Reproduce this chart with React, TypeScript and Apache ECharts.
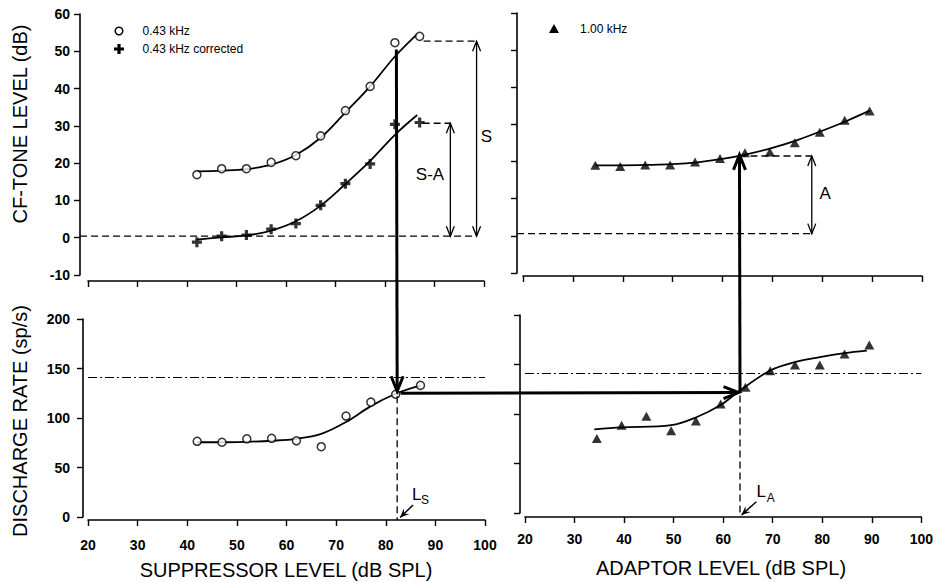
import React, { useEffect, useRef } from "react";
import * as echarts from "echarts";

// ---------------- data ----------------
// Suppressor (0.43 kHz) panels
const suppressorLevels = [42, 47, 52, 57, 62, 67, 72, 77, 82, 87];
const cfTone043 = [16.9, 18.5, 18.5, 20.2, 22.0, 27.3, 34.1, 40.6, 52.3, 54.0];
const cfTone043Corrected = [-1.2, 0.4, 0.7, 2.3, 3.8, 8.7, 14.5, 19.8, 30.4, 30.9];
const rate043 = [76.5, 75.5, 79, 79.5, 77, 71, 102, 116, 124, 133];

const fit043Levels = [42, 47, 52, 57, 62, 67, 72, 77, 82, 86.5];
const fit043 = [17.8, 18.0, 18.4, 19.6, 22.2, 26.8, 33.6, 40.6, 48.6, 54.6];
const fit043CorrLevels = [42, 47, 52, 57, 62, 67, 72, 77, 82, 86.5];
const fit043Corr = [-0.5, 0.1, 0.6, 1.9, 4.4, 8.6, 14.4, 20.6, 27.6, 32.9];
const fitRate043Levels = [42, 47, 52, 57, 62, 67, 72, 77, 82, 87];
const fitRate043 = [75.5, 75.5, 76, 77, 79, 84, 96, 112, 124.5, 133];

// Adaptor (1.00 kHz) panels
const adaptorLevels = [34.5, 39.5, 44.5, 49.5, 54.5, 59.5, 64.5, 69.5, 74.5, 79.5, 84.5, 89.5];
const cfTone100 = [19.0, 18.7, 19.1, 19.1, 19.9, 20.8, 22.4, 22.6, 25.1, 27.9, 31.1, 33.6];
const rate100 = [75.3, 88.7, 97.8, 83, 93, 110, 126.9, 143.7, 149.4, 149.4, 160.5, 169.6];
const fit100Levels = [34.5, 40, 45, 50, 55, 60, 65, 70, 75, 80, 85, 89.5];
const fit100 = [19.0, 19.0, 19.1, 19.3, 19.8, 20.7, 22.0, 23.7, 25.8, 28.3, 31.0, 33.7];
const fitRate100Levels = [34, 39.5, 49.5, 54.5, 59.5, 63.3, 69.5, 74.5, 79.5, 84.5, 89];
const fitRate100 = [84.4, 86.4, 88.7, 96.5, 109, 123.4, 144, 152.5, 157.5, 161.5, 164];

// reference discharge rate (dash-dot lines)
const referenceRate = 141;

// annotation anchors (data units)
const levelLs = 82.3; // L_S
const levelLa = 63.4; // L_A
const sTop = 52.7;
const saTop = 30.7;
const zeroTL = 0.4;
const sArrowLevel = 98.5;
const saArrowLevel = 93.2;
const aTop = 21.5;
const aBase = 0.6;
const aArrowLevel = 77.9;
const rateAtLs = 125;
const rateAtLa = 121.7;

// labels
const xTitleLeft = "SUPPRESSOR LEVEL (dB SPL)";
const xTitleRight = "ADAPTOR LEVEL (dB SPL)";
const yTitleTop = "CF-TONE LEVEL (dB)";
const yTitleBottom = "DISCHARGE RATE (sp/s)";
const legendLabels = ["0.43 kHz", "0.43 kHz corrected", "1.00 kHz"];

const FONT = '"Liberation Sans", Arial, Helvetica, sans-serif';
const PLUS = "path://M3.4,0H6.6V3.4H10V6.6H6.6V10H3.4V6.6H0V3.4H3.4Z";

const zip = (xs: number[], ys: number[]) => xs.map((x, i) => [x, ys[i]]);

function buildOption(): any {
  const axisLine = { show: true, onZero: false, lineStyle: { color: "#000", width: 1.6 } };
  const tick = { show: true, length: 6, lineStyle: { color: "#000", width: 1.4 } };
  const label = (show: boolean, margin: number) => ({
    show,
    margin,
    color: "#000",
    fontSize: 14,
    fontWeight: "bold",
    fontFamily: FONT,
  });
  const xAxis = (gi: number, offset: number, show: boolean, margin: number) => ({
    type: "value",
    gridIndex: gi,
    min: 20,
    max: 100,
    interval: 10,
    offset,
    axisLine,
    axisTick: tick,
    axisLabel: label(show, margin),
    splitLine: { show: false },
  });
  const yAxis = (gi: number, min: number, max: number, interval: number, offset: number, show: boolean, margin: number) => ({
    type: "value",
    gridIndex: gi,
    min,
    max,
    interval,
    offset,
    axisLine,
    axisTick: tick,
    axisLabel: label(show, margin),
    splitLine: { show: false },
  });
  const fitLine = (gi: number, xs: number[], ys: number[], extra: any = {}) => ({
    type: "line",
    xAxisIndex: gi,
    yAxisIndex: gi,
    data: zip(xs, ys),
    smooth: 0.35,
    showSymbol: false,
    symbol: "none",
    lineStyle: { color: "#000", width: 1.8 },
    z: 2,
    silent: true,
    ...extra,
  });
  const refLine = {
    silent: true,
    symbol: "none",
    label: { show: false },
    lineStyle: { color: "#000", width: 1, type: [9, 3, 2, 3] },
    data: [{ yAxis: referenceRate }],
  };
  return {
    animation: false,
    backgroundColor: "#fff",
    grid: [
      { left: 88, top: 14, width: 396, height: 261 },
      { left: 523, top: 13, width: 399, height: 260 },
      { left: 88, top: 319, width: 397, height: 198 },
      { left: 525, top: 315, width: 397, height: 198 },
    ],
    xAxis: [xAxis(0, 6, false, 8), xAxis(1, 3, false, 8), xAxis(2, 3, true, 18), xAxis(3, 4, true, 15)],
    yAxis: [
      yAxis(0, -10, 60, 10, 8, true, 10),
      yAxis(1, -10, 60, 10, 6, false, 10),
      yAxis(2, 0, 200, 50, 5, true, 13),
      yAxis(3, 0, 200, 50, 5, false, 13),
    ],
    series: [
      fitLine(0, fit043Levels, fit043),
      fitLine(0, fit043CorrLevels, fit043Corr),
      {
        name: legendLabels[0],
        type: "scatter",
        xAxisIndex: 0,
        yAxisIndex: 0,
        data: zip(suppressorLevels, cfTone043),
        symbol: "circle",
        symbolSize: 8,
        itemStyle: { color: "#fff", borderColor: "#000", borderWidth: 1.5 },
        z: 5,
      },
      {
        name: legendLabels[1],
        type: "scatter",
        xAxisIndex: 0,
        yAxisIndex: 0,
        data: zip(suppressorLevels, cfTone043Corrected),
        symbol: PLUS,
        symbolSize: 10,
        itemStyle: { color: "#000" },
        z: 5,
      },
      fitLine(1, fit100Levels, fit100),
      {
        name: legendLabels[2],
        type: "scatter",
        xAxisIndex: 1,
        yAxisIndex: 1,
        data: zip(adaptorLevels, cfTone100),
        symbol: "triangle",
        symbolSize: [10, 9],
        itemStyle: { color: "#000" },
        z: 5,
      },
      fitLine(2, fitRate043Levels, fitRate043, { markLine: refLine }),
      {
        type: "scatter",
        xAxisIndex: 2,
        yAxisIndex: 2,
        data: zip(suppressorLevels, rate043),
        symbol: "circle",
        symbolSize: 8,
        itemStyle: { color: "#fff", borderColor: "#000", borderWidth: 1.5 },
        z: 5,
      },
      fitLine(3, fitRate100Levels, fitRate100, { markLine: refLine }),
      {
        type: "scatter",
        xAxisIndex: 3,
        yAxisIndex: 3,
        data: zip(adaptorLevels, rate100),
        symbol: "triangle",
        symbolSize: [10, 9],
        itemStyle: { color: "#000" },
        z: 5,
      },
    ],
  };
}

function buildGraphics(chart: any): any[] {
  const P = (gi: number, x: number, y: number): number[] =>
    chart.convertToPixel({ gridIndex: gi }, [x, y]) as number[];
  const g: any[] = [];
  const seg = (a: number[], b: number[], lw: number, dash?: number[]) =>
    g.push({
      type: "polyline",
      shape: { points: [a, b] },
      style: { stroke: "#000", lineWidth: lw, lineDash: dash, fill: "none" },
      z: 20,
    });
  const head = (tip: number[], from: number[], len: number, half: number, lw: number, filled = false) => {
    const dx = tip[0] - from[0];
    const dy = tip[1] - from[1];
    const d = Math.hypot(dx, dy) || 1;
    const ux = dx / d;
    const uy = dy / d;
    const nx = -uy;
    const ny = ux;
    const w1 = [tip[0] - ux * len + nx * half, tip[1] - uy * len + ny * half];
    const w2 = [tip[0] - ux * len - nx * half, tip[1] - uy * len - ny * half];
    if (filled) {
      const back = [tip[0] - ux * len * 0.6, tip[1] - uy * len * 0.6];
      g.push({ type: "polygon", shape: { points: [w1, tip, w2, back] }, style: { fill: "#000" }, z: 21 });
    } else {
      g.push({
        type: "polyline",
        shape: { points: [w1, tip, w2] },
        style: { stroke: "#000", lineWidth: lw, fill: "none", lineJoin: "miter" },
        z: 21,
      });
    }
  };
  const arrow = (a: number[], b: number[], lw: number, len: number, half: number, both = false) => {
    seg(a, b, lw);
    head(b, a, len, half, lw);
    if (both) head(a, b, len, half, lw);
  };
  const text = (pt: number[], s: string, size: number, align = "center", vAlign = "middle") =>
    g.push({
      type: "text",
      x: pt[0],
      y: pt[1],
      style: { text: s, fontSize: size, fontFamily: FONT, fill: "#000", align, verticalAlign: vAlign },
      z: 22,
    });
  const DASH = [7, 4];

  // ---- top-left annotations ----
  seg(P(0, 18.4, zeroTL), P(0, sArrowLevel, zeroTL), 1.3, DASH);
  seg(P(0, 87.8, sTop), P(0, sArrowLevel, sTop), 1.3, DASH);
  seg(P(0, 87.6, saTop), P(0, saArrowLevel, saTop), 1.3, DASH);
  arrow(P(0, sArrowLevel, zeroTL), P(0, sArrowLevel, sTop), 1.3, 10, 4, true);
  arrow(P(0, saArrowLevel, zeroTL), P(0, saArrowLevel, saTop), 1.3, 10, 4, true);
  text(P(0, 100.5, 27.1), "S", 17);
  text(P(0, 89.1, 16.9), "S-A", 17);

  // ---- top-right annotations ----
  seg(P(1, 18.8, aBase), P(1, aArrowLevel, aBase), 1.3, DASH);
  seg(P(1, levelLa, aTop), P(1, aArrowLevel, aTop), 1.3, DASH);
  arrow(P(1, aArrowLevel, aBase), P(1, aArrowLevel, aTop), 1.3, 10, 4, true);
  text(P(1, 80.6, 11.3), "A", 17);

  // ---- thick connecting arrows ----
  arrow(P(0, levelLs, 50.5), P(2, levelLs, rateAtLs + 2), 3, 15, 6);
  arrow(P(2, 83, rateAtLs), P(3, levelLa - 0.3, rateAtLa), 3, 15, 6);
  arrow(P(3, levelLa, rateAtLa), P(1, levelLa, aTop + 0.3), 3, 15, 6);

  // ---- bottom dashed drop lines and level labels ----
  seg(P(2, levelLs, rateAtLs - 3), P(2, levelLs, -3), 1.3, DASH);
  seg(P(3, levelLa, rateAtLa - 3), P(3, levelLa, -4), 1.3, DASH);

  const lsFrom = P(2, 85.5, 12.1);
  const lsTip = P(2, 82.9, -0.5);
  seg(lsFrom, lsTip, 1.5);
  head(lsTip, lsFrom, 9, 4, 1.5, true);
  text(P(2, 85.3, 23.2), "L", 17, "left");
  text(P(2, 87.1, 17.5), "S", 12, "left");

  const laFrom = P(3, 66.7, 11.4);
  const laTip = P(3, 63.7, -2);
  seg(laFrom, laTip, 1.5);
  head(laTip, laFrom, 9, 4, 1.5, true);
  text(P(3, 66.75, 22.2), "L", 17, "left");
  text(P(3, 68.8, 15.2), "A", 12, "left");

  // ---- axis titles ----
  const title = (x: number, y: number, s: string, rot = 0) =>
    g.push({
      type: "text",
      x,
      y,
      rotation: rot,
      style: { text: s, fontSize: 20, fontFamily: FONT, fill: "#000", align: "center", verticalAlign: "middle" },
      z: 22,
    });
  title(20, 124, yTitleTop, Math.PI / 2);
  title(20, 421, yTitleBottom, Math.PI / 2);
  title(286, 570, xTitleLeft);
  title(721, 568, xTitleRight);

  // ---- legends ----
  g.push({ type: "circle", shape: { cx: 119, cy: 31, r: 3.8 }, style: { fill: "#fff", stroke: "#000", lineWidth: 1.5 }, z: 22 });
  g.push({
    type: "polygon",
    shape: {
      points: [
        [117.4, 44], [120.6, 44], [120.6, 47.4], [124, 47.4], [124, 50.6], [120.6, 50.6],
        [120.6, 54], [117.4, 54], [117.4, 50.6], [114, 50.6], [114, 47.4], [117.4, 47.4],
      ],
    },
    style: { fill: "#000" },
    z: 22,
  });
  g.push({ type: "polygon", shape: { points: [[554, 24], [559, 33], [549, 33]] }, style: { fill: "#000" }, z: 22 });
  const legendText = (x: number, y: number, s: string) =>
    g.push({
      type: "text",
      x,
      y,
      style: { text: s, fontSize: 12, fontFamily: FONT, fill: "#000", align: "left", verticalAlign: "middle" },
      z: 22,
    });
  legendText(142.5, 31, legendLabels[0]);
  legendText(142.5, 49, legendLabels[1]);
  legendText(580, 28.5, legendLabels[2]);

  return g;
}

export default function App() {
  const ref = useRef<HTMLDivElement>(null);
  useEffect(() => {
    if (!ref.current) return;
    const chart = echarts.init(ref.current, undefined, { renderer: "svg" });
    chart.setOption(buildOption());
    chart.setOption({ graphic: buildGraphics(chart) });
    return () => chart.dispose();
  }, []);
  return (
    <div
      ref={ref}
      style={{ position: "absolute", left: 0, top: 0, width: 936, height: 582, background: "#fff" }}
    />
  );
}
